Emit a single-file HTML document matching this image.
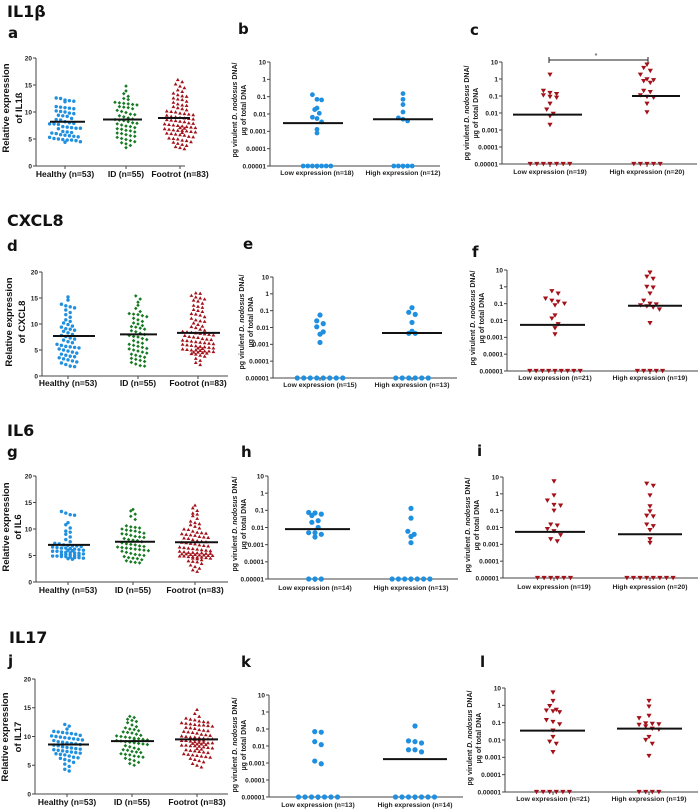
<!DOCTYPE html>
<html><head><meta charset="utf-8">
<style>
html,body{margin:0;padding:0;background:#fff;}
svg{display:block;font-family:"Liberation Sans",sans-serif;}
.ttl{font-family:"DejaVu Sans","Liberation Sans",sans-serif;font-weight:bold;font-size:16px;fill:#111;}
.let{font-family:"DejaVu Sans","Liberation Sans",sans-serif;font-weight:bold;font-size:15px;fill:#111;}
.tick{font-size:6.5px;font-weight:bold;fill:#222;}
.cat{font-size:8.5px;font-weight:bold;fill:#111;}
.catl{font-size:6.8px;font-weight:bold;fill:#222;}
.ylab{font-size:9.5px;font-weight:bold;fill:#111;}
.ylabl{font-size:7px;font-weight:bold;fill:#222;}
</style></head>
<body>
<svg id="fig" width="700" height="811" viewBox="0 0 700 811">
<text class="ttl" x="7" y="17">IL1β</text>
<text class="ttl" x="7" y="226">CXCL8</text>
<text class="ttl" x="7" y="436">IL6</text>
<text class="ttl" x="9" y="643">IL17</text>
</svg>
<script>
const Z = 1e-5;
const linTicks = [0,5,10,15,20];
const logTicks = [10,1,0.1,0.01,0.001,0.0001,0.00001];
const logTickLabels = ["10","1","0.1","0.01","0.001","0.0001","0.00001"];
const groupLabels = ["Healthy (n=53)","ID (n=55)","Footrot (n=83)"];

// IL1b
const aHealthy = [12.6,12.5,12.2,12.1,12.0,11.9,11.0,10.9,10.8,10.7,10.6,10.2,10.1,10.0,9.4,9.3,9.2,8.8,8.6,8.5,8.2,8.0,7.9,7.8,7.8,7.7,7.3,7.2,7.1,7.0,7.0,6.9,6.4,6.3,6.2,6.1,6.0,5.8,5.7,5.6,5.5,5.4,5.3,5.1,5.0,4.9,4.8,4.8,4.7,4.5,4.4,9.8,9.7];
const aID = [14.8,13.9,13.4,12.9,12.5,12.3,11.8,11.7,11.6,11.5,11.4,11.3,11.0,10.9,10.8,10.6,10.3,10.1,9.9,9.6,9.5,9.3,9.1,8.9,8.7,8.6,8.5,8.4,8.2,8.0,7.9,7.8,7.6,7.4,7.3,7.1,6.9,6.8,6.6,6.5,6.3,6.1,6.0,5.8,5.6,5.5,5.3,5.1,4.9,4.7,4.5,4.3,4.1,3.8,3.4];
const aFootrot = [16.0,15.6,15.2,14.8,14.5,14.1,13.8,13.5,13.2,12.9,12.6,12.3,12.0,11.8,11.5,11.3,11.0,10.8,10.6,10.4,10.2,10.0,9.8,9.7,9.5,9.4,9.2,9.1,9.0,8.9,8.8,8.7,8.6,8.5,8.4,8.3,8.2,8.0,7.9,7.8,7.7,7.6,7.5,7.4,7.3,7.2,7.1,7.0,6.9,6.8,6.7,6.6,6.5,6.4,6.3,6.2,6.1,6.0,5.9,5.8,5.7,5.5,5.4,5.2,5.1,5.0,4.8,4.7,4.5,4.4,4.2,4.0,3.8,3.6,3.4,3.2,9.6,10.1,11.2,12.4,13.0,7.1,6.6];
const aMeans = [8.2,8.6,8.9];
const bLow = [0.13,0.07,0.065,0.022,0.018,0.011,0.0065,0.0055,0.0035,0.0013,0.0008,Z,Z,Z,Z,Z,Z,Z];
const bHigh = [0.15,0.07,0.035,0.013,0.006,0.005,0.004,Z,Z,Z,Z,Z];
const bMedians = [0.003,0.005];
const cLow = [1.8,0.2,0.15,0.13,0.11,0.09,0.08,0.035,0.016,0.009,0.0065,0.002,Z,Z,Z,Z,Z,Z,Z];
const cHigh = [7,4.5,3,1.8,0.95,0.85,0.75,0.6,0.2,0.17,0.11,0.09,0.08,0.035,0.011,Z,Z,Z,Z,Z];
const cMedians = [0.008,0.1];
// CXCL8
const dHealthy = [15.2,14.6,13.8,13.5,13.3,13.1,12.7,12.2,11.8,11.3,10.8,10.5,10.2,9.9,9.6,9.4,9.1,8.8,8.6,8.3,8.0,7.8,7.6,7.3,7.1,6.9,6.6,6.4,6.1,5.9,5.7,5.5,5.4,5.2,5.0,4.8,4.6,4.4,4.2,4.0,3.8,3.7,3.5,3.3,3.1,2.9,2.7,2.5,2.2,1.9,1.8,9.0,5.6];
const dID = [15.4,14.8,14.2,13.6,13.0,12.4,12.0,11.8,11.6,11.4,11.1,10.8,10.5,10.2,10.0,9.7,9.4,9.2,9.0,8.7,8.5,8.2,8.0,7.8,7.5,7.2,7.0,6.8,6.5,6.3,6.1,5.9,5.7,5.5,5.3,5.0,4.8,4.6,4.4,4.2,4.0,3.8,3.6,3.4,3.2,3.0,2.8,2.6,2.3,2.0,1.9,11.9,9.5,7.6,5.2];
const dFootrot = [16.0,15.9,15.5,15.0,14.8,14.4,14.0,13.6,13.2,12.8,12.4,12.0,11.7,11.4,11.1,10.8,10.5,10.2,9.9,9.6,9.3,9.0,8.8,8.6,8.4,8.2,8.0,7.8,7.6,7.4,7.2,7.0,6.8,6.6,6.4,6.2,6.0,5.8,5.6,5.4,5.2,5.0,4.8,4.6,4.4,4.2,4.0,3.8,3.4,3.0,2.6,2.2,5.1,5.0,4.9,4.8,4.7,4.6,4.5,4.3,5.3,5.5,5.7,5.9,6.1,6.3,6.5,6.7,7.1,7.5,8.5,9.5,10.6,11.9,12.6,13.4,14.6,15.2,8.3,8.1,7.9,6.9,5.4];
const dMeans = [7.7,8.0,8.3];
const eLow = [0.055,0.025,0.017,0.011,0.0055,0.004,0.0013,Z,Z,Z,Z,Z,Z,Z,Z];
const eHigh = [0.15,0.08,0.06,0.02,0.006,0.0045,0.0045,Z,Z,Z,Z,Z,Z];
const eMedians = [null,0.0047];
const fLow = [0.55,0.4,0.2,0.15,0.13,0.1,0.08,0.02,0.013,0.006,0.0035,0.0015,Z,Z,Z,Z,Z,Z,Z,Z,Z];
const fHigh = [7,4,3,1,0.9,0.4,0.15,0.1,0.09,0.08,0.07,0.06,0.045,0.007,Z,Z,Z,Z,Z];
const fMedians = [0.0055,0.075];
// IL6
const gHealthy = [13.3,13.0,12.7,12.6,11.2,10.8,10.2,9.6,9.4,9.0,8.5,8.0,7.6,7.2,7.0,6.9,6.8,6.7,6.6,6.5,6.4,6.3,6.2,6.1,6.0,5.9,5.8,5.7,5.6,5.5,5.4,5.3,5.2,5.1,5.0,5.0,4.9,4.9,4.8,4.8,4.7,4.6,4.5,4.4,4.3,5.5,6.0,6.4,6.8,7.3,5.2,4.6,5.8];
const gID = [13.7,13.4,12.8,12.4,11.8,10.6,10.4,10.2,10.0,9.8,9.6,9.4,9.2,9.0,8.8,8.6,8.4,8.2,8.0,7.8,7.6,7.4,7.2,7.0,6.8,6.6,6.4,6.2,6.0,5.8,5.6,5.4,5.2,5.0,4.8,4.6,4.4,4.2,4.0,3.8,3.6,3.7,6.1,6.3,6.5,7.1,7.9,8.5,9.1,9.7,10.3,5.9,6.7,4.5,5.1];
const gFootrot = [14.5,14.0,13.5,13.0,12.5,12.0,11.5,11.2,10.8,10.5,10.2,9.9,9.6,9.3,9.0,8.8,8.6,8.4,8.2,8.0,7.8,7.6,7.4,7.2,7.0,6.8,6.6,6.4,6.2,6.0,5.9,5.8,5.7,5.6,5.5,5.4,5.3,5.2,5.1,5.0,5.0,4.9,4.9,4.8,4.8,4.7,4.6,4.5,4.4,4.2,4.0,3.8,3.5,3.2,2.9,2.6,2.3,2.0,9.1,9.2,8.9,8.3,7.7,7.3,6.9,6.5,6.1,5.6,5.3,5.1,5.2,4.7,11.0,10.0,9.4,8.5,7.5,6.3,5.5,5.4,4.5,3.9,12.8];
const gMeans = [7.0,7.6,7.5];
const hLow = [0.075,0.07,0.06,0.05,0.025,0.02,0.01,0.005,0.005,0.004,0.0028,Z,Z,Z];
const hHigh = [0.13,0.035,0.006,0.004,0.003,0.0013,Z,Z,Z,Z,Z,Z,Z];
const hMedians = [0.008,null];
const iLow = [5.5,0.8,0.4,0.22,0.2,0.1,0.015,0.013,0.008,0.006,0.0035,0.002,0.0015,Z,Z,Z,Z,Z,Z];
const iHigh = [4,3,0.8,0.18,0.09,0.05,0.045,0.015,0.012,0.007,0.002,0.0012,Z,Z,Z,Z,Z,Z,Z,Z];
const iMedians = [0.0055,0.004];
// IL17
const jHealthy = [12.1,11.8,11.3,10.9,10.8,10.7,10.6,10.5,10.4,10.2,10.0,9.9,9.8,9.6,9.5,9.4,9.3,9.1,9.0,8.9,8.8,8.7,8.6,8.5,8.4,8.2,8.0,7.9,7.8,7.6,7.5,7.4,7.3,7.2,7.1,7.0,6.9,6.8,6.6,6.4,6.3,6.2,6.0,5.8,5.5,5.2,4.8,4.3,4.0,9.7,8.1,7.7,10.1];
const jID = [13.5,13.3,13.0,12.6,12.4,12.0,11.7,11.5,11.2,11.0,10.8,10.6,10.4,10.2,10.0,9.8,9.7,9.6,9.5,9.4,9.3,9.2,9.1,9.0,8.9,8.8,8.6,8.4,8.2,8.0,7.8,7.6,7.4,7.2,7.0,6.8,6.6,6.4,6.2,6.0,5.8,5.5,5.3,5.0,9.9,9.4,8.7,7.7,7.3,11.3,10.1,6.9,6.5,12.8,10.7];
const jFootrot = [14.7,14.0,13.5,13.2,12.9,12.7,12.5,12.3,12.2,12.1,12.0,11.8,11.6,11.4,11.2,11.0,10.8,10.6,10.4,10.2,10.0,9.9,9.8,9.7,9.6,9.5,9.4,9.3,9.2,9.1,9.0,8.9,8.8,8.7,8.6,8.5,8.4,8.3,8.2,8.0,7.8,7.6,7.4,7.2,7.0,6.8,6.6,6.4,6.2,6.0,5.8,5.6,5.3,5.0,4.7,12.4,12.0,11.5,10.9,10.3,9.9,9.6,9.3,9.0,8.7,8.4,8.1,7.7,7.3,6.9,6.5,10.7,11.1,10.1,9.4,8.9,8.5,7.9,7.5,6.7,13.0,11.9,12.6];
const jMeans = [8.6,9.2,9.5];
const kLow = [0.07,0.065,0.018,0.012,0.0013,0.0009,Z,Z,Z,Z,Z,Z,Z];
const kHigh = [0.15,0.02,0.018,0.015,0.006,0.006,0.0045,Z,Z,Z,Z,Z,Z,Z];
const kMedians = [null,0.0017];
const lLow = [5.5,1.8,0.9,0.55,0.45,0.4,0.5,0.14,0.08,0.11,0.035,0.015,0.008,0.006,0.002,Z,Z,Z,Z,Z,Z];
const lHigh = [1.8,0.85,0.25,0.18,0.085,0.075,0.09,0.06,0.045,0.04,0.08,0.015,0.01,0.006,0.0012,Z,Z,Z,Z];
const lMedians = [0.035,0.045];

const NS = "http://www.w3.org/2000/svg";
const svg = document.getElementById('fig');
const BLUE = "#1f8fe0", GREEN = "#177a22", RED = "#a3111a";

function el(tag, attrs, parent) {
  const e = document.createElementNS(NS, tag);
  for (const k in attrs) e.setAttribute(k, attrs[k]);
  (parent || svg).appendChild(e);
  return e;
}

function drawMarker(g, shape, x, y, color, s) {
  let m;
  if (shape === 'circle') {
    m = el('circle', {cx: x, cy: y, r: s, fill: color}, g);
  } else if (shape === 'down') {
    m = el('polygon', {points: `${x-s},${y-s*0.8} ${x+s},${y-s*0.8} ${x},${y+s*0.9}`, fill: color}, g);
  } else if (shape === 'up') {
    m = el('polygon', {points: `${x-s},${y+s*0.8} ${x+s},${y+s*0.8} ${x},${y-s*0.9}`, fill: color}, g);
  } else {
    m = el('polygon', {points: `${x-s},${y} ${x},${y-s} ${x+s},${y} ${x},${y+s}`, fill: color}, g);
  }
  
  
}

function swarm(g, vals, yf, cx, rowPx, spacing, shape, color, size, maxN) {
  const bins = {};
  vals.forEach(v => {
    const y = yf(v);
    const k = Math.round(y / rowPx);
    (bins[k] = bins[k] || []).push(y);
  });
  Object.keys(bins).forEach(k => {
    const arr = bins[k].sort((a, b) => a - b);
    const nChunks = Math.ceil(arr.length / maxN);
    for (let c = 0; c < nChunks; c++) {
      const chunk = arr.slice(c * maxN, (c + 1) * maxN);
      const n = chunk.length;
      const off = (c % 2 === 0 ? 0 : spacing / 2);
      chunk.forEach((y, i) => {
        drawMarker(g, shape, cx + off + (i - (n - 1) / 2) * spacing, y, color, size);
      });
    }
  });
}

function yLabel(g, x1, x2, cy, lines, cls, italic) {
  lines.forEach((ln, i) => {
    const x = i === 0 ? x1 : x2;
    const t = el('text', {x: x, y: cy, class: cls, 'text-anchor': 'middle', transform: `rotate(-90 ${x} ${cy})`}, g);
    
    
    if (italic && i === 0) {
      t.appendChild(document.createTextNode('pg virulent '));
      const ts = el('tspan', {'font-style': 'italic'}, t);
      ts.textContent = 'D. nodosus';
      t.appendChild(document.createTextNode(' DNA/'));
    } else {
      t.textContent = ln;
    }
  });
}

function letter(x, y, s) {
  const t = el('text', {x: x, y: y, class: 'let'});
  
  
  t.textContent = s;
}

function linearPanel(p) {
  const g = el('g', {});
  
  
  letter(p.letX, p.letY, p.id);
  const yf = v => p.yBot - (v / 20) * (p.yBot - p.yTop);
  const ax = el('path', {d: `M${p.ax},${p.yTop}V${p.yBot}H${p.xEnd}`, stroke: '#444', 'stroke-width': 1, fill: 'none'}, g);
  
  
  linTicks.forEach(t => {
    const y = yf(t);
    el('line', {x1: p.ax - 3, x2: p.ax, y1: y, y2: y, stroke: '#444', 'stroke-width': 1}, g);
    const tx = el('text', {x: p.ax - 4, y: y + 2.3, class: 'tick', 'text-anchor': 'end'}, g);
    
    
    tx.textContent = t;
  });
  const shapes = ['circle', 'diamond', 'up'];
  const colors = [BLUE, GREEN, RED];
  const sizes = [1.7, 1.8, 1.9];
  p.groups.forEach((vals, i) => {
    const cx = p.centers[i];
    el('line', {x1: cx, x2: cx, y1: p.yBot, y2: p.yBot + 3, stroke: '#444'}, g);
    swarm(g, vals, yf, cx, 4.5, 4.4, shapes[i], colors[i], sizes[i], 8);
    const ml = el('line', {x1: p.lines[i][0], x2: p.lines[i][1], y1: yf(p.means[i]), y2: yf(p.means[i]), stroke: '#111', 'stroke-width': 2}, g);
    
    
    const lb = el('text', {x: cx, y: p.labelY, class: 'cat', 'text-anchor': 'middle'}, g);
    
    
    lb.textContent = groupLabels[i];
  });
  yLabel(g, p.yl[0], p.yl[1], p.ylY, ['Relative expression', 'of ' + p.gene], 'ylab', false);
}

function logPanel(p) {
  const g = el('g', {});
  
  
  letter(p.letX, p.letY, p.id);
  const yf = v => p.yTop + (1 - Math.log10(v)) / 6 * (p.yBot - p.yTop);
  const ax = el('path', {d: `M${p.ax},${p.yTop}V${p.yBot}H${p.xEnd}`, stroke: '#444', 'stroke-width': 1, fill: 'none'}, g);
  
  
  logTicks.forEach((t, i) => {
    const y = yf(t);
    el('line', {x1: p.ax - 3, x2: p.ax, y1: y, y2: y, stroke: '#444', 'stroke-width': 1}, g);
    const tx = el('text', {x: p.ax - 4, y: y + 2.3, class: 'tick', 'text-anchor': 'end'}, g);
    
    
    tx.textContent = logTickLabels[i];
  });
  p.groups.forEach((vals, i) => {
    const cx = p.centers[i];
    el('line', {x1: cx, x2: cx, y1: p.yBot, y2: p.yBot + 3, stroke: '#444'}, g);
    swarm(g, vals, yf, cx, 7, p.sp, p.shape, p.color, p.size, 12);
    if (p.medians[i] !== null) {
      const ml = el('line', {x1: p.lines[i][0], x2: p.lines[i][1], y1: yf(p.medians[i]), y2: yf(p.medians[i]), stroke: '#111', 'stroke-width': 2}, g);
      
      
    }
    const lb = el('text', {x: cx, y: p.labelY, class: 'catl', 'text-anchor': 'middle'}, g);
    
    
    lb.textContent = (i === 0 ? 'Low expression (n=' : 'High expression (n=') + vals.length + ')';
  });
  yLabel(g, p.yl[0], p.yl[1], p.ylY, ['', 'µg of total DNA'], 'ylabl', true);
  return {g, yf};
}

linearPanel({id:'a', gene:'IL1ß', letX:8, letY:38, ax:36, yTop:58, yBot:166, xEnd:185, centers:[65,126,180], lines:[[50,85],[103,142],[158,190]], means:aMeans, groups:[aHealthy,aID,aFootrot], labelY:177, yl:[9,22], ylY:108});
logPanel({id:'b', letX:238, letY:34, ax:270, yTop:62, yBot:166, xEnd:440, centers:[317,403], lines:[[283,343],[373,433]], medians:bMedians, groups:[bLow,bHigh], shape:'circle', color:BLUE, size:2.4, sp:4.6, labelY:175, yl:[237,246], ylY:110});
const pc = logPanel({id:'c', letX:470, letY:35, ax:502, yTop:62, yBot:164, xEnd:697, centers:[550,647], lines:[[513,582],[632,680]], medians:cMedians, groups:[cLow,cHigh], shape:'down', color:RED, size:2.6, sp:6.6, labelY:174, yl:[469,478], ylY:113});
const br = el('path', {d: 'M549,57V63M549,60H648M648,57V63', stroke: '#222', 'stroke-width': 1, fill: 'none'});


const st = el('text', {x: 596, y: 58, 'font-size': 7, 'text-anchor': 'middle', fill: '#222'});


st.textContent = '*';

linearPanel({id:'d', gene:'CXCL8', letX:7, letY:251, ax:42, yTop:272, yBot:376, xEnd:228, centers:[68,138,198], lines:[[53,95],[120,157],[177,220]], means:dMeans, groups:[dHealthy,dID,dFootrot], labelY:386, yl:[12,25], ylY:322});
logPanel({id:'e', letX:243, letY:249, ax:273, yTop:277, yBot:378, xEnd:457, centers:[320,412], lines:[null,[382,442]], medians:eMedians, groups:[eLow,eHigh], shape:'circle', color:BLUE, size:2.6, sp:6.5, labelY:387, yl:[244,253], ylY:322});
logPanel({id:'f', letX:472, letY:257, ax:507, yTop:270, yBot:371, xEnd:698, centers:[555,650], lines:[[520,585],[628,682]], medians:fMedians, groups:[fLow,fHigh], shape:'down', color:RED, size:2.6, sp:6.3, labelY:380, yl:[475,484], ylY:318});

linearPanel({id:'g', gene:'IL6', letX:7, letY:457, ax:36, yTop:476, yBot:582, xEnd:228, centers:[68,133,195], lines:[[48,90],[115,155],[175,218]], means:gMeans, groups:[gHealthy,gID,gFootrot], labelY:593, yl:[9,21], ylY:527});
logPanel({id:'h', letX:241, letY:457, ax:268, yTop:476, yBot:579, xEnd:458, centers:[315,411], lines:[[285,350],null], medians:hMedians, groups:[hLow,hHigh], shape:'circle', color:BLUE, size:2.6, sp:6.3, labelY:590, yl:[237,246], ylY:524});
logPanel({id:'i', letX:477, letY:456, ax:503, yTop:477, yBot:578, xEnd:698, centers:[554,650], lines:[[515,585],[618,682]], medians:iMedians, groups:[iLow,iHigh], shape:'down', color:RED, size:2.6, sp:6.6, labelY:589, yl:[470,479], ylY:525});

linearPanel({id:'j', gene:'IL17', letX:8, letY:666, ax:35, yTop:679, yBot:794, xEnd:228, centers:[67,132,197], lines:[[48,89],[111,154],[175,218]], means:jMeans, groups:[jHealthy,jID,jFootrot], labelY:805, yl:[8,21], ylY:737});
logPanel({id:'k', letX:241, letY:667, ax:269, yTop:695, yBot:797, xEnd:463, centers:[318,415], lines:[null,[383,447]], medians:kMedians, groups:[kLow,kHigh], shape:'circle', color:BLUE, size:2.6, sp:6.5, labelY:807, yl:[237,246], ylY:745});
logPanel({id:'l', letX:480, letY:667, ax:505, yTop:688, yBot:792, xEnd:698, centers:[553,649], lines:[[520,585],[617,682]], medians:lMedians, groups:[lLow,lHigh], shape:'down', color:RED, size:2.6, sp:6.6, labelY:801, yl:[472,481], ylY:738});
</script>
</body></html>
